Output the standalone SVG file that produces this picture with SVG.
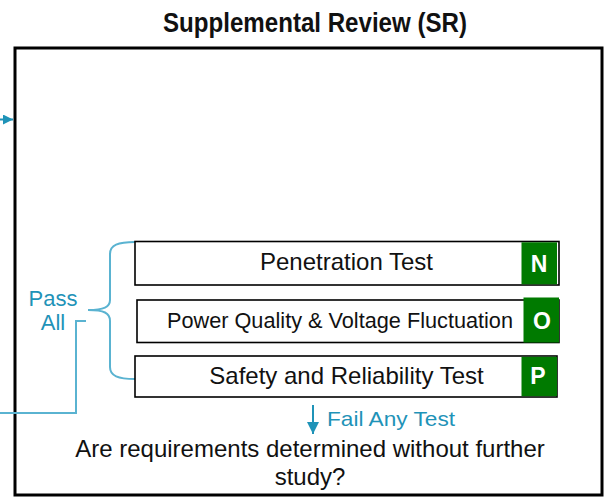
<svg xmlns="http://www.w3.org/2000/svg" width="605" height="498" viewBox="0 0 605 498">
<defs>
<marker id="ah" viewBox="0 0 10 10" refX="10" refY="5" markerWidth="10" markerHeight="10" markerUnits="userSpaceOnUse" orient="auto">
<path d="M0,0 L10,5 L0,10 Z" fill="#1f93b8"/>
</marker>
<marker id="ah2" viewBox="0 0 10 10" refX="10" refY="5" markerWidth="12" markerHeight="12" markerUnits="userSpaceOnUse" orient="auto">
<path d="M0,0 L10,5 L0,10 Z" fill="#1f93b8"/>
</marker>
</defs>
<style>
.frame{fill:#fff;stroke:#000;stroke-width:3}
.box{fill:#fff;stroke:#000;stroke-width:1.6}
.tag{fill:#007a00}
.tagt{font-family:"Liberation Sans",Arial,sans-serif;font-weight:bold;font-size:23px;fill:#fff;text-anchor:middle}
.bt{font-family:"Liberation Sans",Arial,sans-serif;font-size:24px;fill:#111;text-anchor:middle}
.bts{font-size:21.5px}
.lbl{font-family:"Liberation Sans",Arial,sans-serif;font-size:22px;fill:#1f93b8;text-anchor:middle}
.con{fill:none;stroke:#5ab3d1;stroke-width:2}
.arr{fill:none;stroke:#1f93b8;stroke-width:2}
</style>
<rect width="605" height="498" fill="#fff"/>
<g id="title">
<text x="315" y="32" font-family="'Liberation Sans Narrow','Arial Narrow','Liberation Sans',Arial,sans-serif" font-weight="bold" font-size="27" fill="#111" text-anchor="middle" textLength="304" lengthAdjust="spacingAndGlyphs">Supplemental Review (SR)</text>
</g>
<g id="sr-frame">
<rect class="frame" x="15" y="48" width="587" height="447"/>
</g>
<g id="connectors">
<path class="arr" d="M-6,119.5 L13,119.5" marker-end="url(#ah)"/>
<path class="con" d="M0,413 L76,413 L76,321 L86,321"/>
<path class="con" d="M135,242 C118,242 110,245 110,254 L110,300 C110,307 104,310 88,310 C104,310 110,313 110,321 L110,367 C110,376 118,379 135,379"/>
<path class="arr" d="M313,405 L313,434" marker-end="url(#ah2)"/>
</g>
<g id="pass-all">
<text class="lbl" x="53" y="306">Pass</text>
<text class="lbl" x="53" y="330">All</text>
</g>
<g id="fail-label">
<text class="lbl" x="327" y="426" textLength="128" lengthAdjust="spacingAndGlyphs" style="text-anchor:start;font-size:21px">Fail Any Test</text>
</g>
<g id="test-n">
<rect class="box" x="135" y="241.5" width="424" height="43.5"/>
<rect class="tag" x="521.5" y="242.3" width="35.5" height="42"/>
<text class="bt" x="346.5" y="269.5">Penetration Test</text>
<text class="tagt" x="539" y="272">N</text>
</g>
<g id="test-o">
<rect class="box" x="137" y="300" width="422" height="42.5"/>
<rect class="tag" x="523.5" y="297.5" width="35.5" height="45"/>
<text class="bt bts" x="340" y="328" textLength="346" lengthAdjust="spacingAndGlyphs">Power Quality &amp; Voltage Fluctuation</text>
<text class="tagt" x="542" y="329">O</text>
</g>
<g id="test-p">
<rect class="box" x="135" y="356" width="422" height="41"/>
<rect class="tag" x="521.5" y="356.8" width="35.5" height="39.4"/>
<text class="bt" x="346.5" y="383.5">Safety and Reliability Test</text>
<text class="tagt" x="538" y="384">P</text>
</g>
<g id="question">
<text class="bt" x="310" y="456.5">Are requirements determined without further</text>
<text class="bt" x="310" y="485">study?</text>
</g>
</svg>
